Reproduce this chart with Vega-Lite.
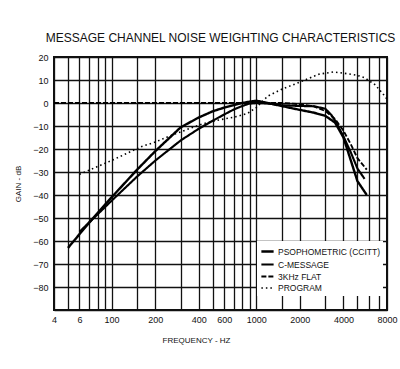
{
  "$schema": "https://vega.github.io/schema/vega-lite/v6.json",
  "width": 333,
  "height": 253,
  "autosize": {"type": "none"},
  "padding": {"left": 54, "top": 57, "right": 13, "bottom": 59},
  "background": "white",
  "title": {
    "text": "MESSAGE CHANNEL NOISE WEIGHTING CHARACTERISTICS",
    "font": "Liberation Sans",
    "fontSize": 12,
    "fontWeight": "normal",
    "color": "#111",
    "anchor": "middle",
    "offset": 8
  },
  "data": {
    "values": [
      {"series": "PSOPHOMETRIC (CCITT)", "f": 50, "gain": -63},
      {"series": "PSOPHOMETRIC (CCITT)", "f": 70, "gain": -52},
      {"series": "PSOPHOMETRIC (CCITT)", "f": 100, "gain": -41},
      {"series": "PSOPHOMETRIC (CCITT)", "f": 150, "gain": -29},
      {"series": "PSOPHOMETRIC (CCITT)", "f": 200, "gain": -21},
      {"series": "PSOPHOMETRIC (CCITT)", "f": 300, "gain": -10.6},
      {"series": "PSOPHOMETRIC (CCITT)", "f": 400, "gain": -6.3},
      {"series": "PSOPHOMETRIC (CCITT)", "f": 500, "gain": -3.6},
      {"series": "PSOPHOMETRIC (CCITT)", "f": 600, "gain": -2},
      {"series": "PSOPHOMETRIC (CCITT)", "f": 700, "gain": -0.9},
      {"series": "PSOPHOMETRIC (CCITT)", "f": 800, "gain": 0},
      {"series": "PSOPHOMETRIC (CCITT)", "f": 900, "gain": 0.6},
      {"series": "PSOPHOMETRIC (CCITT)", "f": 1000, "gain": 1},
      {"series": "PSOPHOMETRIC (CCITT)", "f": 1200, "gain": 0},
      {"series": "PSOPHOMETRIC (CCITT)", "f": 1400, "gain": -0.9},
      {"series": "PSOPHOMETRIC (CCITT)", "f": 1600, "gain": -1.7},
      {"series": "PSOPHOMETRIC (CCITT)", "f": 2000, "gain": -3},
      {"series": "PSOPHOMETRIC (CCITT)", "f": 2500, "gain": -4.2},
      {"series": "PSOPHOMETRIC (CCITT)", "f": 3000, "gain": -5.6},
      {"series": "PSOPHOMETRIC (CCITT)", "f": 3500, "gain": -8.5},
      {"series": "PSOPHOMETRIC (CCITT)", "f": 4000, "gain": -15},
      {"series": "PSOPHOMETRIC (CCITT)", "f": 4500, "gain": -25},
      {"series": "PSOPHOMETRIC (CCITT)", "f": 5000, "gain": -34},
      {"series": "PSOPHOMETRIC (CCITT)", "f": 5800, "gain": -40},
      {"series": "C-MESSAGE", "f": 60, "gain": -56},
      {"series": "C-MESSAGE", "f": 100, "gain": -42.5},
      {"series": "C-MESSAGE", "f": 150, "gain": -32},
      {"series": "C-MESSAGE", "f": 200, "gain": -25.1},
      {"series": "C-MESSAGE", "f": 300, "gain": -16.3},
      {"series": "C-MESSAGE", "f": 400, "gain": -11.2},
      {"series": "C-MESSAGE", "f": 500, "gain": -7.7},
      {"series": "C-MESSAGE", "f": 600, "gain": -5},
      {"series": "C-MESSAGE", "f": 700, "gain": -2.8},
      {"series": "C-MESSAGE", "f": 800, "gain": -1.3},
      {"series": "C-MESSAGE", "f": 900, "gain": -0.2},
      {"series": "C-MESSAGE", "f": 1000, "gain": 0},
      {"series": "C-MESSAGE", "f": 1200, "gain": -0.2},
      {"series": "C-MESSAGE", "f": 1500, "gain": -1},
      {"series": "C-MESSAGE", "f": 2000, "gain": -1.3},
      {"series": "C-MESSAGE", "f": 2500, "gain": -1.4},
      {"series": "C-MESSAGE", "f": 3000, "gain": -2.5},
      {"series": "C-MESSAGE", "f": 3300, "gain": -5.2},
      {"series": "C-MESSAGE", "f": 3500, "gain": -7.6},
      {"series": "C-MESSAGE", "f": 4000, "gain": -14.5},
      {"series": "C-MESSAGE", "f": 4500, "gain": -21.5},
      {"series": "C-MESSAGE", "f": 5000, "gain": -28.5},
      {"series": "C-MESSAGE", "f": 5600, "gain": -33},
      {"series": "3KHz FLAT", "f": 40, "gain": 0},
      {"series": "3KHz FLAT", "f": 1000, "gain": 0},
      {"series": "3KHz FLAT", "f": 1500, "gain": 0},
      {"series": "3KHz FLAT", "f": 2000, "gain": -0.5},
      {"series": "3KHz FLAT", "f": 2500, "gain": -1.5},
      {"series": "3KHz FLAT", "f": 3000, "gain": -3.5},
      {"series": "3KHz FLAT", "f": 3500, "gain": -7},
      {"series": "3KHz FLAT", "f": 4000, "gain": -12},
      {"series": "3KHz FLAT", "f": 4500, "gain": -18},
      {"series": "3KHz FLAT", "f": 5000, "gain": -24},
      {"series": "3KHz FLAT", "f": 5800, "gain": -29},
      {"series": "PROGRAM", "f": 60, "gain": -31},
      {"series": "PROGRAM", "f": 100, "gain": -25},
      {"series": "PROGRAM", "f": 160, "gain": -19},
      {"series": "PROGRAM", "f": 200, "gain": -17},
      {"series": "PROGRAM", "f": 260, "gain": -14},
      {"series": "PROGRAM", "f": 350, "gain": -11},
      {"series": "PROGRAM", "f": 430, "gain": -9},
      {"series": "PROGRAM", "f": 560, "gain": -7.3},
      {"series": "PROGRAM", "f": 720, "gain": -6},
      {"series": "PROGRAM", "f": 870, "gain": -4.5},
      {"series": "PROGRAM", "f": 1000, "gain": -2},
      {"series": "PROGRAM", "f": 1200, "gain": 3},
      {"series": "PROGRAM", "f": 1500, "gain": 6},
      {"series": "PROGRAM", "f": 1900, "gain": 8.5},
      {"series": "PROGRAM", "f": 2700, "gain": 12.5},
      {"series": "PROGRAM", "f": 3400, "gain": 13.5},
      {"series": "PROGRAM", "f": 4000, "gain": 13},
      {"series": "PROGRAM", "f": 5000, "gain": 12},
      {"series": "PROGRAM", "f": 5600, "gain": 11},
      {"series": "PROGRAM", "f": 6600, "gain": 8},
      {"series": "PROGRAM", "f": 7500, "gain": 4},
      {"series": "PROGRAM", "f": 8000, "gain": 1.7}
    ]
  },
  "mark": {"type": "line", "color": "black", "clip": true},
  "encoding": {
    "x": {
      "field": "f",
      "type": "quantitative",
      "scale": {"type": "log", "domain": [40, 8000], "nice": false},
      "axis": {
        "title": "FREQUENCY - HZ",
        "titleFont": "Liberation Sans",
        "titleFontSize": 8,
        "titleFontWeight": "normal",
        "titleColor": "#111",
        "titlePadding": 12,
        "titleX": 142,
        "values": [40, 50, 60, 70, 80, 90, 100, 150, 200, 300, 400, 500, 600, 700, 800, 900, 1000, 1500, 2000, 3000, 4000, 5000, 6000, 7000, 8000],
        "labelExpr": "datum.value == 40 ? '4' : datum.value == 60 ? '6' : (datum.value == 100 || datum.value == 200 || datum.value == 400 || datum.value == 600 || datum.value == 1000 || datum.value == 2000 || datum.value == 4000 || datum.value == 8000) ? format(datum.value, 'd') : ''",
        "labelOverlap": false,
        "labelFlush": false,
        "labelFont": "Liberation Sans",
        "labelFontSize": 9,
        "labelColor": "#111",
        "labelPadding": 5,
        "ticks": false,
        "domain": false,
        "grid": true,
        "gridColor": "#111",
        "gridWidth": 1.3,
        "gridOpacity": 1
      }
    },
    "y": {
      "field": "gain",
      "type": "quantitative",
      "scale": {"domain": [-90, 20], "nice": false},
      "axis": {
        "title": "GAIN - dB",
        "titleFont": "Liberation Sans",
        "titleFontSize": 8,
        "titleFontWeight": "normal",
        "titleColor": "#111",
        "titlePadding": 10,
        "values": [-90, -80, -70, -60, -50, -40, -30, -20, -10, 0, 10, 20],
        "labelExpr": "datum.value == -90 ? '' : format(datum.value, 'd')",
        "labelFont": "Liberation Sans",
        "labelFontSize": 9,
        "labelColor": "#111",
        "labelPadding": 6,
        "ticks": false,
        "domain": false,
        "grid": true,
        "gridColor": "#111",
        "gridWidth": 1.3,
        "gridOpacity": 1
      }
    },
    "strokeDash": {
      "field": "series",
      "type": "nominal",
      "scale": {
        "domain": ["PSOPHOMETRIC (CCITT)", "C-MESSAGE", "3KHz FLAT", "PROGRAM"],
        "range": [[1, 0], [1, 0], [5, 2], [1.5, 3]]
      },
      "legend": {
        "title": null,
        "orient": "none",
        "legendX": 203,
        "legendY": 184,
        "fillColor": "white",
        "padding": 3,
        "symbolType": "stroke",
        "symbolSize": 150,
        "symbolStrokeColor": "black",
        "labelFont": "Liberation Sans",
        "labelFontSize": 8.5,
        "labelColor": "#111",
        "rowPadding": -3,
        "labelOffset": 3
      }
    },
    "strokeWidth": {
      "field": "series",
      "type": "nominal",
      "scale": {
        "domain": ["PSOPHOMETRIC (CCITT)", "C-MESSAGE", "3KHz FLAT", "PROGRAM"],
        "range": [2.4, 1.6, 1.6, 2]
      },
      "legend": null
    },
    "order": {"field": "f", "type": "quantitative"}
  },
  "config": {
    "view": {"stroke": "#111", "strokeWidth": 2}
  }
}
